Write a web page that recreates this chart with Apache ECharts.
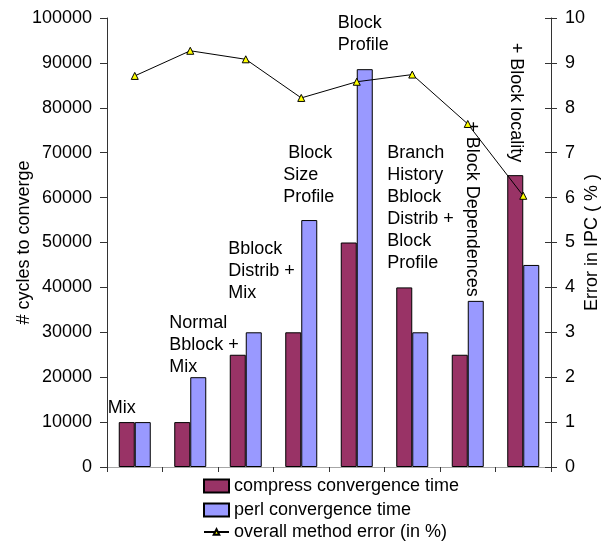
<!DOCTYPE html>
<html>
<head>
<meta charset="utf-8">
<script src="https://cdn.jsdelivr.net/npm/echarts@6/dist/echarts.min.js"></script>
<style>
  html, body { margin: 0; padding: 0; background: #fff; }
  #chart { width: 607px; height: 544px; }
</style>
</head>
<body>
<div id="chart"></div>
<script>
// Simulation configurations, in the order they were added
const categories = [
  'Mix', 'Normal Bblock + Mix', 'Bblock Distrib + Mix', 'Block Size Profile',
  'Block Profile', 'Branch History Bblock Distrib + Block Profile',
  '+ Block Dependences', '+ Block locality'
];
// Annotation text written above each group
const categoryNotes = [
  'Mix',
  'Normal\nBblock +\nMix',
  'Bblock\nDistrib +\nMix',
  ' Block\nSize\nProfile',
  'Block\nProfile',
  'Branch\nHistory\nBblock\nDistrib +\nBlock\nProfile',
  '+ Block Dependences',
  '+ Block locality'
];
// Cycles needed to converge
const compressCycles = [10000, 10000, 25000, 30000, 50000, 40000, 25000, 65000];
const perlCycles     = [10000, 20000, 30000, 55000, 88600, 30000, 37000, 45000];
// Overall error of the method in IPC (%)
const methodError = [8.71, 9.27, 9.08, 8.22, 8.58, 8.74, 7.64, 6.04];

const seriesNames = ['compress convergence time', 'perl convergence time', 'overall method error (in %)'];
const cyclesAxis = { min: 0, max: 100000, interval: 10000 };
const errorAxis = { min: 0, max: 10, interval: 1 };

const FONT = '"Liberation Sans", Arial, sans-serif';
const INK = '#000';

// Where each annotation sits, relative to the top-left corner of the perl bar
const noteStyle = [
  { position: [-27, -3] },
  { position: [-21, 1] },
  { position: [-17.5, -28.5] },
  { position: [-18, -12] },
  { position: [-23, -13], backgroundColor: '#fff', padding: [0, 25, 0, 4] },
  { position: [-25, -58.5] },
  { position: [4, -4], rotate: -90, align: 'right', verticalAlign: 'middle' },
  { position: [-7.75, -102.7], rotate: -90, align: 'right', verticalAlign: 'middle' }
];

const perlData = perlCycles.map((v, i) => ({
  value: v,
  label: Object.assign({
    show: true,
    formatter: categoryNotes[i],
    align: 'left',
    verticalAlign: 'bottom',
    fontSize: 18,
    lineHeight: 22,
    fontFamily: FONT,
    color: INK
  }, noteStyle[i])
}));

const legendText = { fontSize: 18, color: INK, fontFamily: FONT };

const chart = echarts.init(document.getElementById('chart'), null, { renderer: 'canvas' });

chart.setOption({
  animation: false,
  backgroundColor: '#fff',
  textStyle: { fontFamily: FONT },
  grid: { left: 107, right: 56, top: 18, bottom: 77, containLabel: false, outerBoundsMode: 'none' },
  legend: [
    {
      orient: 'vertical',
      left: 203,
      top: 477,
      height: 50,
      padding: 0,
      itemWidth: 25,
      itemHeight: 13,
      itemGap: 6,
      textStyle: legendText,
      data: [
        { name: seriesNames[0], icon: 'rect' },
        { name: seriesNames[1], icon: 'rect' }
      ]
    },
    {
      orient: 'vertical',
      left: 203,
      top: 523,
      height: 21,
      padding: 0,
      itemWidth: 25,
      itemHeight: 7,
      textStyle: legendText,
      data: [seriesNames[2]]
    }
  ],
  xAxis: [
    {
      type: 'category',
      data: categories,
      boundaryGap: true,
      axisLine: { show: true, lineStyle: { color: '#333', width: 1 } },
      axisTick: { show: true, interval: 0, length: 5, alignWithLabel: false, lineStyle: { color: '#333' } },
      axisLabel: { show: false, interval: 0 },
      splitLine: { show: false }
    },
    {
      type: 'category',
      data: categories,
      position: 'top',
      axisLine: { show: true, lineStyle: { color: '#a6a6a6', width: 1 } },
      axisTick: { show: false },
      axisLabel: { show: false },
      splitLine: { show: false }
    }
  ],
  yAxis: [
    {
      type: 'value',
      min: cyclesAxis.min,
      max: cyclesAxis.max,
      interval: cyclesAxis.interval,
      position: 'left',
      name: '# cycles to converge',
      nameLocation: 'middle',
      nameGap: 74,
      nameMoveOverlap: false,
      nameTextStyle: { fontSize: 18, color: INK, fontFamily: FONT },
      axisLine: { show: true, lineStyle: { color: '#333', width: 1 } },
      axisTick: { show: true, length: 7, lineStyle: { color: '#333' } },
      axisLabel: { fontSize: 18, color: INK, margin: 15, fontFamily: FONT, formatter: v => String(v) },
      splitLine: { show: false }
    },
    {
      type: 'value',
      min: errorAxis.min,
      max: errorAxis.max,
      interval: errorAxis.interval,
      position: 'right',
      name: 'Error in IPC ( % )',
      nameLocation: 'middle',
      nameGap: 32,
      nameMoveOverlap: false,
      nameTextStyle: { fontSize: 18, color: INK, fontFamily: FONT },
      axisLine: { show: true, lineStyle: { color: '#333', width: 1 } },
      axisTick: { show: true, length: 6, lineStyle: { color: '#333' } },
      axisLabel: { fontSize: 18, color: INK, margin: 14, fontFamily: FONT, formatter: v => String(v) },
      splitLine: { show: false }
    },
    {
      // inner half of the right-hand tick marks
      type: 'value',
      min: errorAxis.min,
      max: errorAxis.max,
      interval: errorAxis.interval,
      position: 'right',
      axisLine: { show: false },
      axisTick: { show: true, inside: true, length: 6, lineStyle: { color: '#333' } },
      axisLabel: { show: false },
      splitLine: { show: false }
    }
  ],
  series: [
    {
      name: seriesNames[0],
      type: 'bar',
      xAxisIndex: 0,
      yAxisIndex: 0,
      data: compressCycles,
      barWidth: 16,
      barGap: '0%',
      itemStyle: { color: '#993366', borderColor: '#000', borderWidth: 1 }
    },
    {
      name: seriesNames[1],
      type: 'bar',
      xAxisIndex: 0,
      yAxisIndex: 0,
      data: perlData,
      barWidth: 16,
      barGap: '0%',
      itemStyle: { color: '#9999ff', borderColor: '#000', borderWidth: 1 }
    },
    {
      name: seriesNames[2],
      type: 'line',
      xAxisIndex: 0,
      yAxisIndex: 1,
      data: methodError,
      symbol: 'triangle',
      symbolSize: 7,
      lineStyle: { color: '#000', width: 1 },
      itemStyle: { color: '#ffff00', borderColor: '#000', borderWidth: 1 },
      z: 5
    }
  ]
});
</script>
</body>
</html>
